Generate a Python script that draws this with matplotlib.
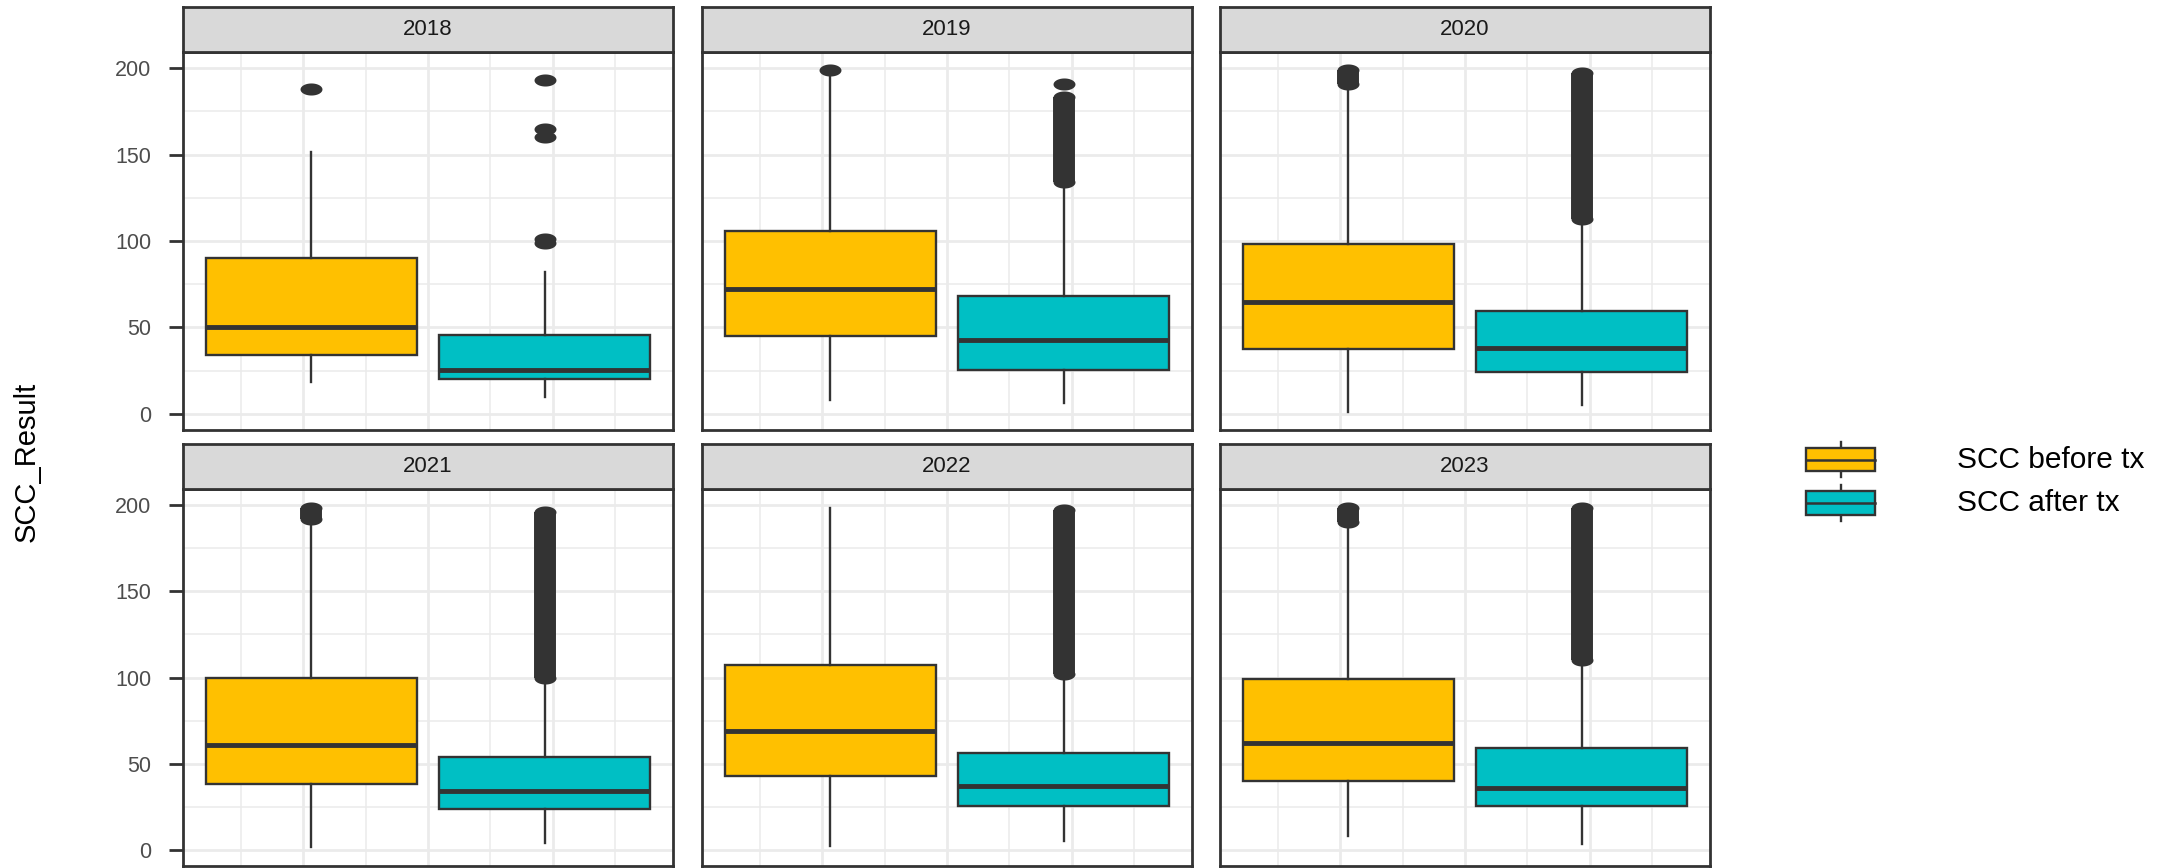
import numpy as np
import matplotlib
matplotlib.use("Agg")
import matplotlib.pyplot as plt
from matplotlib.patches import Rectangle

plt.rcParams["font.family"] = ["Liberation Sans", "DejaVu Sans"]

# ---- data (SCC_Result per year) ----
years = ["2018", "2019", "2020", "2021", "2022", "2023"]
groups = ["SCC before tx", "SCC after tx"]

before_whislo = [18.5, 8, 1, 2, 2.5, 8]
before_q1 = [34, 45, 37.5, 38.5, 43, 40]
before_med = [50, 72, 64.5, 61, 69, 62]
before_q3 = [90, 106, 98.5, 100, 107, 99]
before_whishi = [151.5, 197, 189, 190, 198, 187]
before_outliers = [[188], [199], [], [], [], []]
before_outlier_runs = [[], [], [(191, 199)], [(192, 198)], [], [(190, 198)]]

after_whislo = [10, 6.5, 5, 4, 5, 3.5]
after_q1 = [20.5, 25.5, 24.5, 24, 25.5, 25.5]
after_med = [25.5, 42.5, 38, 34, 37, 36]
after_q3 = [45.5, 68, 59.5, 54, 56, 59]
after_whishi = [82, 132, 110, 97, 99, 107]
after_outliers = [[193, 165, 160, 101, 99], [191], [], [], [], []]
after_outlier_runs = [[], [(134, 183)], [(113, 197)], [(100, 196)], [(102, 197)], [(110, 198)]]

colors = ["#FFC000", "#00BFC4"]
dark = "#333333"

W, H = 2183, 868
fig = plt.figure(figsize=(W / 100, H / 100), dpi=100)


def px_axes(x0, y0, x1, y1):
    return fig.add_axes([x0 / W, 1 - y1 / H, (x1 - x0) / W, (y1 - y0) / H])


# ellipse marker (points in the reference are wide ovals)
t = np.linspace(0, 2 * np.pi, 64)
ellipse = np.column_stack([np.cos(t), 0.55 * np.sin(t)])
msize = 15.8

col_left = [183, 702, 1220]
panel_w = 490
rows = [(7, 52, 430), (444, 489, 866)]

for i, year in enumerate(years):
    r, c = divmod(i, 3)
    x0 = col_left[c]
    s_top, s_bot, p_bot = rows[r]

    ax = px_axes(x0, s_bot, x0 + panel_w, p_bot)
    stats = [
        dict(whislo=before_whislo[i], q1=before_q1[i], med=before_med[i],
             q3=before_q3[i], whishi=before_whishi[i], fliers=before_outliers[i]),
        dict(whislo=after_whislo[i], q1=after_q1[i], med=after_med[i],
             q3=after_q3[i], whishi=after_whishi[i], fliers=after_outliers[i]),
    ]
    positions = [-0.935, 0.935]
    bp = ax.bxp(stats, positions=positions, widths=1.69, patch_artist=True,
                showcaps=False,
                boxprops=dict(edgecolor=dark, linewidth=1.7),
                medianprops=dict(color=dark, linewidth=3.5, solid_capstyle="butt"),
                whiskerprops=dict(color=dark, linewidth=1.7),
                flierprops=dict(marker=ellipse, markersize=msize,
                                markerfacecolor=dark, markeredgecolor="none",
                                linestyle="none"))
    for patch, col in zip(bp["boxes"], colors):
        patch.set_facecolor(col)

    # dense outlier columns
    for pos, runs in zip(positions, [before_outlier_runs[i], after_outlier_runs[i]]):
        for lo, hi in runs:
            ax.plot([pos, pos], [lo, hi], color=dark, lw=msize,
                    solid_capstyle="butt", zorder=3)
            ax.plot([pos, pos], [lo, hi], marker=ellipse, markersize=msize,
                    color=dark, markeredgecolor="none", linestyle="none", zorder=3)

    ax.set_xlim(-1.965, 1.965)
    ax.set_ylim(-9.25, 209.25)
    ax.set_xticks([-1, 0, 1])
    ax.set_xticks([-1.5, -0.5, 0.5, 1.5], minor=True)
    ax.set_yticks([0, 50, 100, 150, 200])
    ax.set_yticks([25, 75, 125, 175], minor=True)
    ax.set_axisbelow(True)
    ax.grid(which="major", color="#EBEBEB", lw=2.0)
    ax.grid(which="minor", color="#EBEBEB", lw=1.1)
    ax.tick_params(axis="x", which="both", length=0, labelbottom=False)
    ax.tick_params(axis="y", which="minor", length=0)
    if c == 0:
        ax.tick_params(axis="y", which="major", length=10, width=2, color=dark,
                       pad=13, labelsize=15.5, labelcolor="#4D4D4D")
    else:
        ax.tick_params(axis="y", which="major", length=0, labelleft=False)
    for sp in ax.spines.values():
        sp.set_color(dark)
        sp.set_linewidth(2)

    st = px_axes(x0, s_top, x0 + panel_w, s_bot)
    st.set_facecolor("#D9D9D9")
    st.set_xticks([])
    st.set_yticks([])
    for sp in st.spines.values():
        sp.set_color(dark)
        sp.set_linewidth(2)
    st.text(0.5, 0.5, year, ha="center", va="center", fontsize=16,
            color="#1A1A1A", transform=st.transAxes)

fig.text(27 / W, 1 - 462 / H, "SCC_Result", rotation=90, ha="center",
         va="center", fontsize=21)

# legend
lg = fig.add_axes([0, 0, 1, 1], facecolor="none")
lg.set_xlim(0, W)
lg.set_ylim(H, 0)
lg.axis("off")
key_y = [(448, 471), (491, 515)]
for col, (ya, yb), label in zip(colors, key_y, groups):
    lg.plot([1840.5, 1840.5], [ya - 6, yb + 6], color=dark, lw=1.7, zorder=1)
    lg.add_patch(Rectangle((1806, ya), 69, yb - ya, facecolor=col,
                           edgecolor=dark, lw=1.7, zorder=2))
    ym = (ya + yb) / 2
    lg.plot([1806, 1875], [ym, ym], color=dark, lw=1.8, zorder=3)
    lg.text(1957, ym, label, ha="left", va="center", fontsize=21.5, color="black")

fig.savefig("out.png", dpi=100)
